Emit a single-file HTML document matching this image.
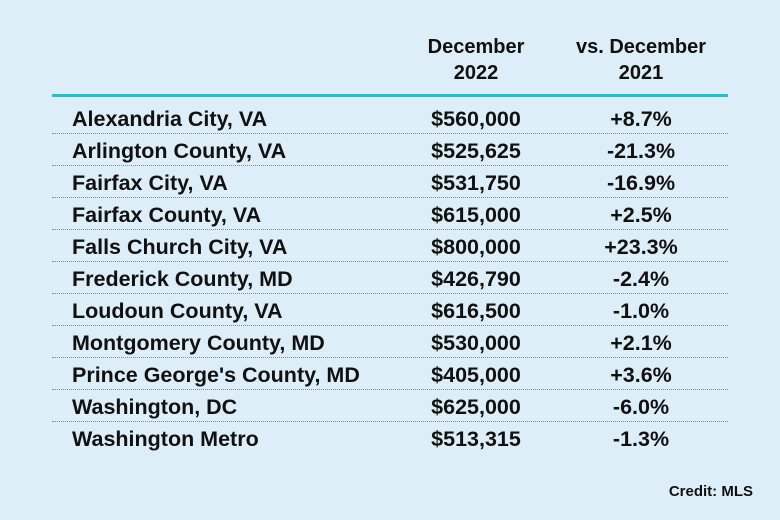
<!DOCTYPE html>
<html><head><style>
body{margin:0;width:780px;height:520px;background:#deeef8;font-family:"Liberation Sans",sans-serif;font-weight:bold;color:#111;position:relative;overflow:hidden}
.t{position:absolute;white-space:nowrap;font-size:21.5px;line-height:22px}
.c{transform:translateX(-50%)}
.dot{position:absolute;left:52px;width:676px;border-top:1.5px dotted #888}
</style></head><body>
<div class="t c" style="left:476px;top:36px;font-size:20px">December</div>
<div class="t c" style="left:476px;top:62px;font-size:20px">2022</div>
<div class="t c" style="left:641px;top:36px;font-size:20px">vs. December</div>
<div class="t c" style="left:641px;top:62px;font-size:20px">2021</div>
<div style="position:absolute;left:52px;top:94px;width:676px;height:3px;background:#1cc3cc"></div>
<div id="rows"></div>
<div class="t" style="right:27px;top:481px;font-size:15px">Credit: MLS</div>
<script>
var d=[["Alexandria City, VA","$560,000","+8.7%"],["Arlington County, VA","$525,625","-21.3%"],["Fairfax City, VA","$531,750","-16.9%"],["Fairfax County, VA","$615,000","+2.5%"],["Falls Church City, VA","$800,000","+23.3%"],["Frederick County, MD","$426,790","-2.4%"],["Loudoun County, VA","$616,500","-1.0%"],["Montgomery County, MD","$530,000","+2.1%"],["Prince George's County, MD","$405,000","+3.6%"],["Washington, DC","$625,000","-6.0%"],["Washington Metro","$513,315","-1.3%"]];
var h="";d.forEach(function(r,i){var y=108+32*i;
h+='<div class="t" style="left:72px;top:'+y+'px">'+r[0]+'</div><div class="t c" style="left:476px;top:'+y+'px">'+r[1]+'</div><div class="t c" style="left:641px;top:'+y+'px">'+r[2]+'</div>';
if(i<10)h+='<div class="dot" style="top:'+(133+32*i)+'px"></div>';});
document.getElementById("rows").innerHTML=h;
</script>
</body></html>
